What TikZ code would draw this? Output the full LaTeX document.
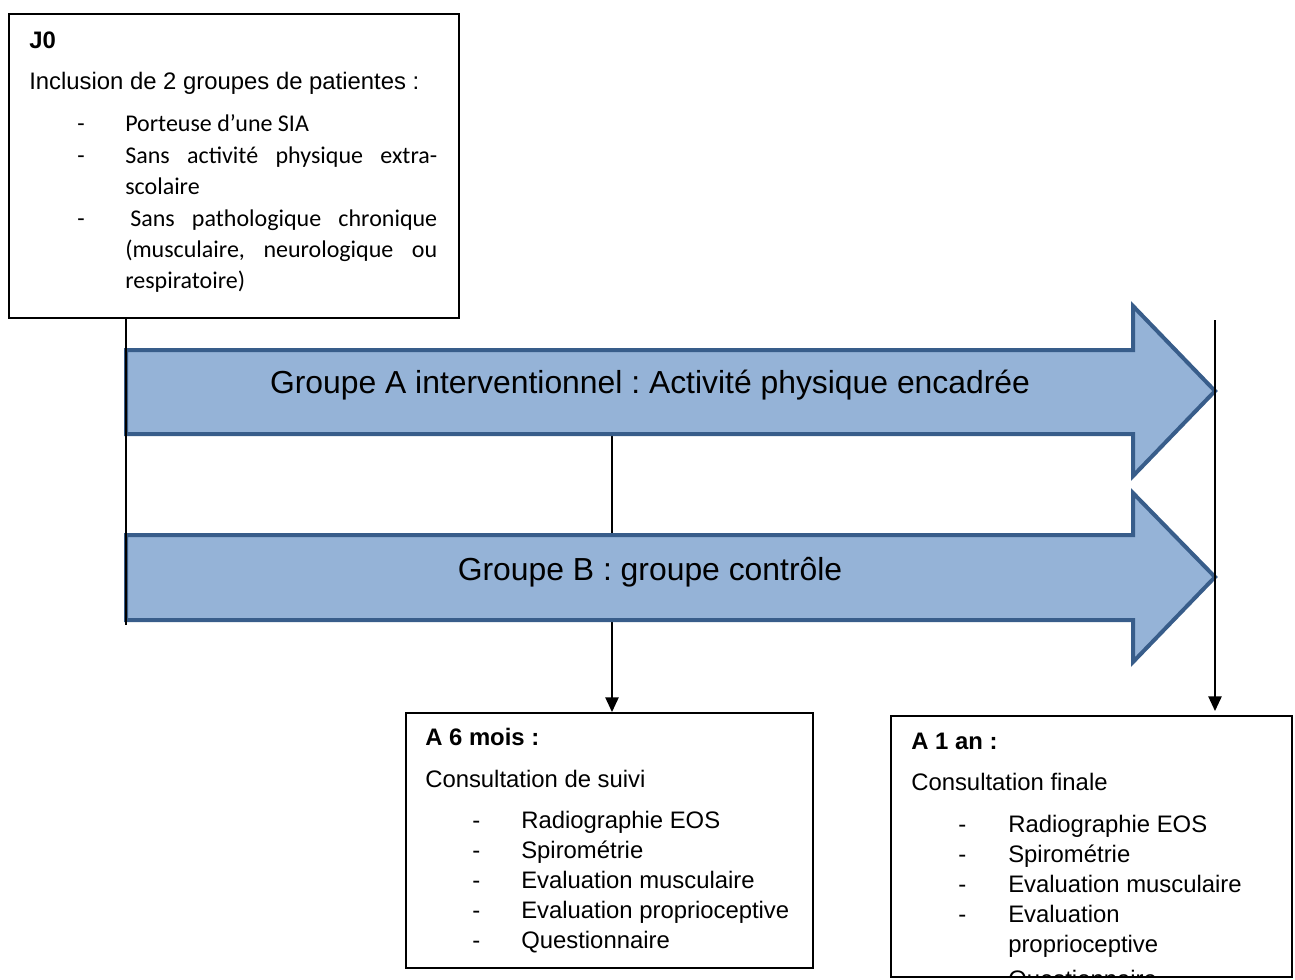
\documentclass[tikz,border=0pt]{standalone}
\usepackage{fontspec}
\setmainfont{Liberation Sans}
\newfontfamily\arialf{Liberation Sans}
\newfontfamily\calib{Carlito}
\usetikzlibrary{arrows.meta}
\definecolor{arrfill}{RGB}{149,179,215}
\definecolor{arrdraw}{RGB}{56,93,138}
\frenchspacing
\begin{document}
\begin{tikzpicture}[x=0.75pt,y=-0.75pt,
  box/.style={draw=black,line width=1.5pt,inner sep=0pt,anchor=north west},
  txt/.style={anchor=base west,inner sep=0pt,font=\arialf\fontsize{17.9pt}{21pt}\selectfont},
  btxt/.style={anchor=base west,inner sep=0pt,font=\arialf\fontsize{17.9pt}{21pt}\selectfont\bfseries},
  ctxt/.style={anchor=base west,inner sep=0pt,font=\calib\fontsize{18pt}{21pt}\selectfont},
  big/.style={anchor=base,inner sep=0pt,font=\arialf\fontsize{23.9pt}{28pt}\selectfont},
  bigarrow/.style={fill=arrfill,draw=arrdraw,line width=3pt,line join=miter},
  conn/.style={draw=black,line width=1.1pt},
  tipped/.style={-{Triangle[width=10pt,length=11pt]}}
]
\useasboundingbox (0,0) rectangle (1295,979);

% boxes
\node[box,minimum width=337.5pt,minimum height=228pt] (j0) at (8,13) {};
\node[box,minimum width=305.25pt,minimum height=191.25pt] (m6) at (405,712) {};

% named points on the timeline
\coordinate (aAbot) at (612,434);
\coordinate (t1top) at (1215,320);
\coordinate (j0end) at (126,625);

% connector 6 mois (behind the arrows)
\draw[conn,tipped] (aAbot) -- (aAbot |- m6.north);

% big arrows
\draw[bigarrow] (126,350) -- (1133,350) -- (1133,306) -- (1215,391) -- (1133,476) -- (1133,434) -- (126,434) -- cycle;
\draw[bigarrow] (126,535) -- (1133,535) -- (1133,493) -- (1215,577) -- (1133,662) -- (1133,620) -- (126,620) -- cycle;
\node[big] (ga) at (650,393) {Groupe A interventionnel : Activité physique encadrée};
\node[big] (gb) at (650,580) {Groupe B : groupe contrôle};

% J0 line
\draw[conn] ([xshift=88.5pt]j0.south west) -- (j0end);

% J0 text
\node[btxt] (j0a) at (29,48) {J0};
\node[txt] (j0b) at (29,89) {Inclusion de 2 groupes de patientes :};
\node[ctxt] (d1) at (77,131) {-};
\node[ctxt] (i1) at (125,131) {Porteuse d’une SIA};
\node[ctxt] (d2) at (77,163) {-};
\node[ctxt] (i2) at (125,163) {\makebox[234pt][s]{Sans activité physique extra-}};
\node[ctxt] (i2b) at (125,194) {scolaire};
\node[ctxt] (d3) at (77,226) {-};
\node[ctxt] (i3) at (130,226) {\makebox[230.25pt][s]{Sans pathologique chronique}};
\node[ctxt] (i3b) at (125,257) {\makebox[234pt][s]{(musculaire, neurologique ou}};
\node[ctxt] (i3c) at (125,288) {respiratoire)};

% 6 mois text
\node[btxt] (m6a) at (425,745) {A 6 mois :};
\node[txt] (m6b) at (425,787) {Consultation de suivi};
\node[txt] (m6d1) at (472,828) {-};
\node[txt] (m6i1) at (521,828) {Radiographie EOS};
\node[txt] (m6d2) at (472,858) {-};
\node[txt] (m6i2) at (521,858) {Spirométrie};
\node[txt] (m6d3) at (472,888) {-};
\node[txt] (m6i3) at (521,888) {Evaluation musculaire};
\node[txt] (m6d4) at (472,918) {-};
\node[txt] (m6i4) at (521,918) {Evaluation proprioceptive};
\node[txt] (m6d5) at (472,948) {-};
\node[txt] (m6i5) at (521,948) {Questionnaire};

% 1 an text (clipped by its box)
\begin{scope}
\clip (891,716) rectangle (1290,975);
\node[btxt] (a1a) at (911,749) {A 1 an :};
\node[txt] (a1b) at (911,790) {Consultation finale};
\node[txt] (a1d1) at (958,832) {-};
\node[txt] (a1i1) at (1008,832) {Radiographie EOS};
\node[txt] (a1d2) at (958,862) {-};
\node[txt] (a1i2) at (1008,862) {Spirométrie};
\node[txt] (a1d3) at (958,892) {-};
\node[txt] (a1i3) at (1008,892) {Evaluation musculaire};
\node[txt] (a1d4) at (958,922) {-};
\node[txt] (a1i4) at (1008,922) {Evaluation};
\node[txt] (a1i4b) at (1008,952) {proprioceptive};
\node[txt] (a1d5) at (958,987) {-};
\node[txt] (a1i5) at (1008,987) {Questionnaire};
\end{scope}
\node[box,minimum width=300.75pt,minimum height=195.75pt] (a1) at (890,715) {};

\draw[conn,tipped] (t1top) -- ([yshift=3pt]t1top |- a1.north);
\end{tikzpicture}
\end{document}
